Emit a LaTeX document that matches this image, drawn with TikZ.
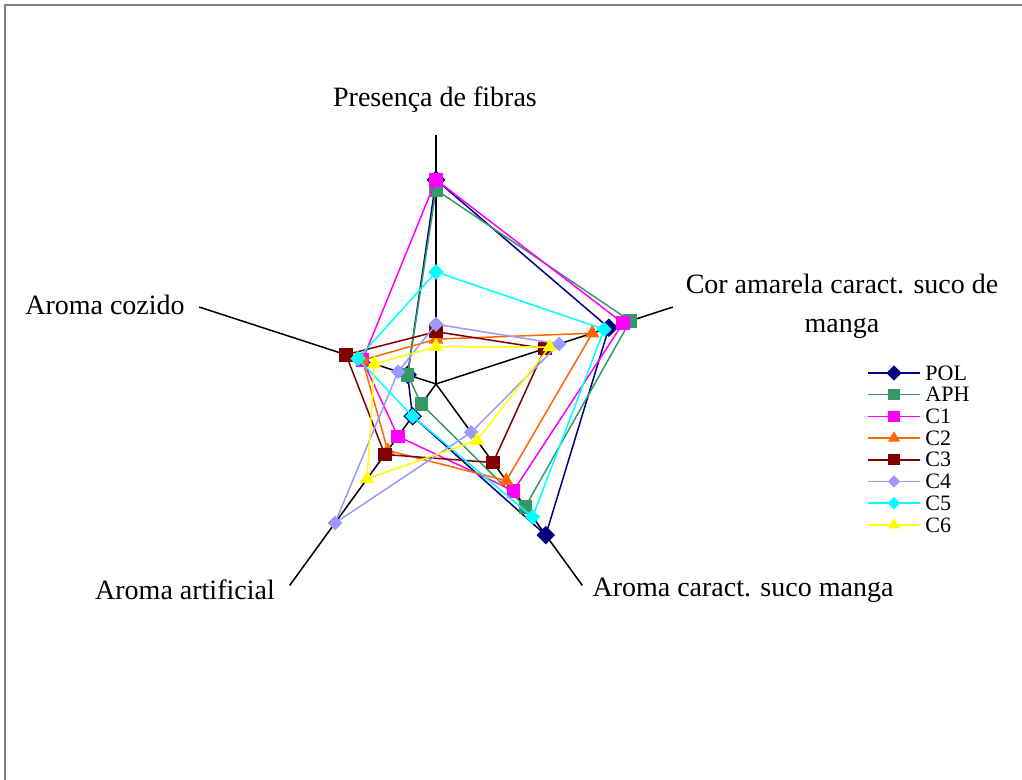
\documentclass[tikz,border=0pt]{standalone}
\usepackage{fontspec}
\setmainfont{Liberation Serif}
\usetikzlibrary{plotmarks}
\definecolor{polblue}{RGB}{0,0,128}
\definecolor{aphgreen}{RGB}{51,153,102}
\definecolor{cmagenta}{RGB}{255,0,255}
\definecolor{corange}{RGB}{255,102,0}
\definecolor{cmaroon}{RGB}{128,0,0}
\definecolor{clavender}{RGB}{153,153,255}
\definecolor{ccyan}{RGB}{0,255,255}
\definecolor{cyellow}{RGB}{255,255,0}
\definecolor{framegray}{RGB}{128,128,128}

\begin{document}
\begin{tikzpicture}[x=0.5pt,y=0.5pt,
  series/.style={line width=0.75pt},
  polser/.style={color=polblue,mark=square*,mark options={rotate=45},mark size=2.9pt},
  aphser/.style={color=aphgreen,mark=square*,mark size=3pt},
  conser/.style={color=cmagenta,mark=square*,mark size=3pt},
  ctwoser/.style={color=corange,mark=triangle*,mark size=3.4pt},
  cthreeser/.style={color=cmaroon,mark=square*,mark size=3pt},
  cfourser/.style={color=clavender,mark=square*,mark options={rotate=45},mark size=2.2pt},
  cfiveser/.style={color=ccyan,mark=square*,mark options={rotate=45},mark size=2.3pt},
  csixser/.style={color=cyellow,mark=triangle*,mark size=3.4pt},
  axlabel/.style={font=\fontsize{14}{19.5}\selectfont,inner sep=0pt},
  legtext/.style={font=\fontsize{11}{13}\selectfont,anchor=west,inner sep=0pt}]

  \useasboundingbox (-436,-396) rectangle (586,384);
  \draw[framegray,line width=0.75pt] (-431,-396) -- (-431,379) -- (586,379);

  \begin{scope}[x=12.45pt,y=12.45pt]
    % axes
    \foreach \ang/\nm in {90/fib,18/cor,-54/suco,-126/art,162/coz}
      \draw[line width=0.75pt] (0,0) -- (\ang:10) coordinate (ax-\nm);

    % one polygon per sample
    \foreach \ser/\a/\b/\c/\d/\e in {polser/8.2/7.3/7.5/1.6/1.2,
        aphser/7.8/8.2/6.1/1.0/1.2,
        conser/8.2/7.9/5.3/2.6/3.1,
        ctwoser/1.8/6.6/4.8/3.3/3.1,
        cthreeser/2.1/4.6/3.9/3.5/3.8,
        cfourser/2.4/5.2/2.4/6.9/1.6,
        cfiveser/4.5/7.1/6.6/1.6/3.3,
        csixser/1.5/4.8/2.8/4.7/2.6}
      \draw[series,\ser] plot coordinates {(90:\a) (18:\b) (-54:\c) (-126:\d) (162:\e) (90:\a)};
  \end{scope}

  % axis labels
  \node[axlabel] (lab-fib) at (-1,284) {Presença de fibras};
  \node[axlabel,align=center] (lab-cor) at (406,77.5) {Cor amarela caract. suco de\\manga};
  \node[axlabel] (lab-coz) at (-331,79) {Aroma cozido};
  \node[axlabel] (lab-art) at (-251,-206) {Aroma artificial};
  \node[axlabel] (lab-suco) at (307,-206) {Aroma caract. suco manga};

  % legend
  \foreach \ser/\nm [count=\i] in {polser/POL,aphser/APH,conser/C1,ctwoser/C2,
      cthreeser/C3,cfourser/C4,cfiveser/C5,csixser/C6} {
    \pgfmathsetmacro\ly{11-21.7*(\i-1)}
    \draw[series,\ser,every mark/.append style={scale=0.8},mark indices={2}]
      plot coordinates {(432,\ly) (458,\ly) (484,\ly)};
    \node[legtext] (leg-\nm) at (489,\ly) {\nm};
  }
\end{tikzpicture}
\end{document}
